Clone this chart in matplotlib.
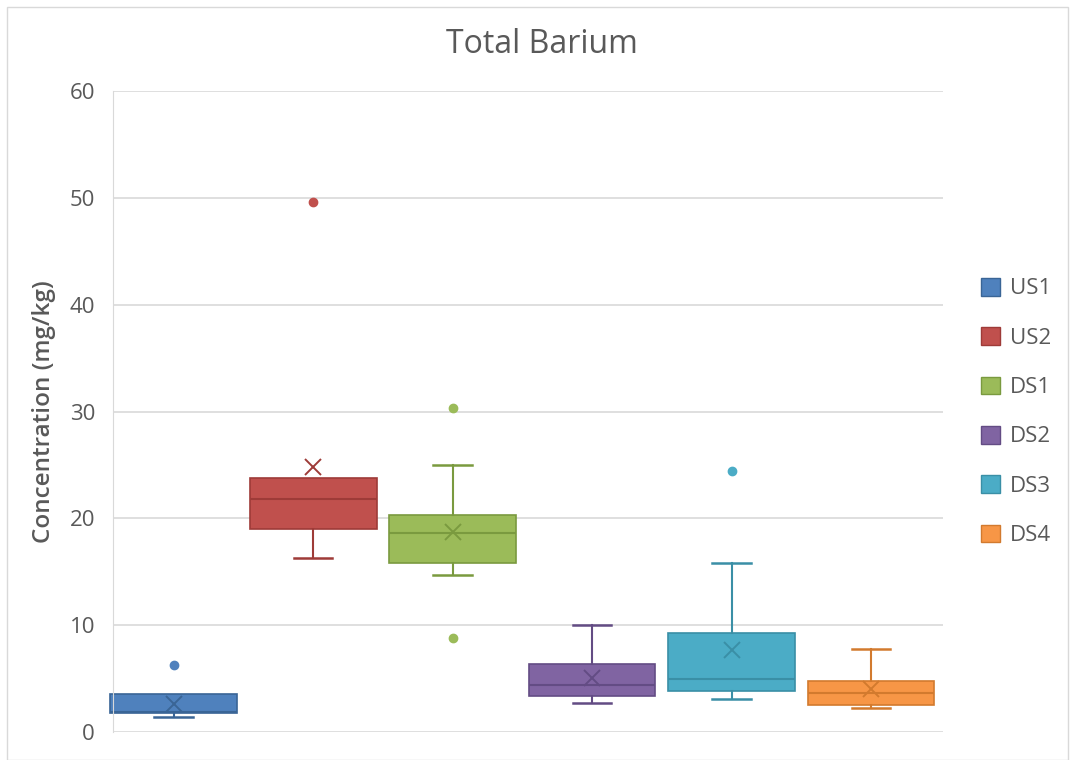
import matplotlib
matplotlib.use("Agg")
import matplotlib.pyplot as plt
from matplotlib.patches import Patch, Rectangle

# ---- data ----
sites = ["US1", "US2", "DS1", "DS2", "DS3", "DS4"]
whisker_low = [1.4, 16.3, 14.7, 2.7, 3.1, 2.2]
q1 = [1.8, 19.0, 15.8, 3.4, 3.8, 2.5]
median = [1.85, 21.8, 18.6, 4.4, 5.0, 3.65]
q3 = [3.6, 23.8, 20.3, 6.4, 9.3, 4.8]
whisker_high = [3.6, 23.8, 25.0, 10.0, 15.8, 7.8]
means = [2.6, 24.8, 18.7, 5.1, 7.7, 4.0]
outliers = [[6.3], [49.6], [30.3, 8.8], [], [24.4], []]

fills = ["#4F81BD", "#C0504D", "#9BBB59", "#8064A2", "#4BACC6", "#F79646"]
edges = ["#3A6596", "#9E3B38", "#7A9A3F", "#634C84", "#3A8FA6", "#D27A2E"]

plt.rcParams["font.family"] = ["Open Sans", "DejaVu Sans"]
fig = plt.figure(figsize=(10.75, 7.6), dpi=100)
ax = fig.add_axes([113/1075, 1-732/760, (943-113)/1075, (732-91)/760])

for i, s in enumerate(sites):
    stats = [dict(label=s, whislo=whisker_low[i], q1=q1[i], med=median[i],
                  q3=q3[i], whishi=whisker_high[i], mean=means[i],
                  fliers=outliers[i])]
    art = ax.bxp(stats, positions=[i], widths=0.91, patch_artist=True,
                 showmeans=True, capwidths=0.275,
                 boxprops=dict(facecolor=fills[i], edgecolor=edges[i], linewidth=1.2),
                 medianprops=dict(color=edges[i], linewidth=1.5),
                 whiskerprops=dict(color=edges[i], linewidth=1.5),
                 capprops=dict(color=edges[i], linewidth=1.8),
                 meanprops=dict(marker="x", markeredgecolor=edges[i], markersize=11,
                                markeredgewidth=1.4),
                 flierprops=dict(marker="o", markerfacecolor=fills[i],
                                 markeredgecolor=fills[i], markersize=6))
    if whisker_high[i] <= q3[i]:
        art["caps"][1].set_visible(False)
        art["whiskers"][1].set_visible(False)
    for a in art["boxes"] + art["medians"]:
        a.set_clip_on(False)

ax.set_xlim(-0.434, 5.516)
ax.set_ylim(0, 60)
ax.set_yticks(range(0, 61, 10))
ax.set_xticks([])
ax.grid(axis="y", color="#D9D9D9", linewidth=1.2)
ax.set_axisbelow(True)
for sp in ["top", "right", "bottom"]:
    ax.spines[sp].set_visible(False)
ax.spines["left"].set_color("#D9D9D9")
ax.tick_params(axis="y", length=0, labelsize=16, labelcolor="#595959", pad=13)

ax.set_ylabel("Concentration (mg/kg)", fontsize=17.5, color="#595959",
              fontweight="semibold", labelpad=10)
fig.text(542/1075, 1-53/760, "Total Barium", ha="center", va="baseline",
         fontsize=23, color="#595959")

handles = [Patch(facecolor=fills[i], edgecolor=edges[i], label=s)
           for i, s in enumerate(sites)]
leg = fig.legend(handles=handles, loc="center left",
                 bbox_to_anchor=(961/1075, 1-412/760), frameon=False,
                 fontsize=16, labelspacing=1.25, handlelength=0.85,
                 handleheight=0.85, handletextpad=0.45)
for t in leg.get_texts():
    t.set_color("#595959")

fig.patches.append(Rectangle((7/1075, 0), 1-14/1075, 1-7/760, fill=False,
                             edgecolor="#D9D9D9", linewidth=1,
                             transform=fig.transFigure, figure=fig))

fig.savefig("out.png", dpi=100)
